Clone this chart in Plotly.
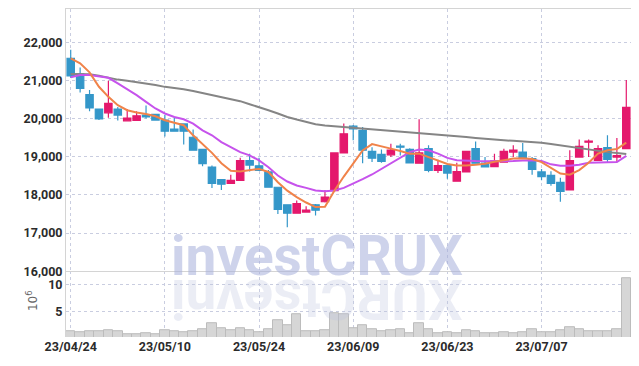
import plotly.graph_objects as go

dates = ["23/04/24","23/04/25","23/04/26","23/04/27","23/04/28",
         "23/05/02","23/05/03","23/05/04","23/05/08","23/05/09",
         "23/05/10","23/05/11","23/05/12","23/05/15","23/05/16",
         "23/05/17","23/05/18","23/05/19","23/05/22","23/05/23",
         "23/05/24","23/05/25","23/05/26","23/05/30","23/05/31",
         "23/06/01","23/06/02","23/06/05","23/06/07","23/06/08",
         "23/06/09","23/06/12","23/06/13","23/06/14","23/06/15",
         "23/06/16","23/06/19","23/06/20","23/06/21","23/06/22",
         "23/06/23","23/06/26","23/06/27","23/06/28","23/06/29",
         "23/06/30","23/07/03","23/07/04","23/07/05","23/07/06",
         "23/07/07","23/07/10","23/07/11","23/07/12","23/07/13",
         "23/07/14","23/07/17","23/07/18","23/07/19","23/07/20"]

open_ = [21580,21170,20630,20250,20150,20250,19940,19950,20090,20110,
         19960,19720,19860,19510,19190,18730,18400,18300,18380,18900,
         18760,18600,18200,17740,17520,17550,17740,17820,18110,19100,
         19800,19690,19140,19060,19050,19280,19190,18830,19210,18640,
         18770,18360,18600,19210,18830,18740,18860,19120,19120,18950,
         18600,18510,18330,18130,18990,19380,18900,19240,18990,19210]
high = [21800,21340,20750,20250,20990,20300,20250,20190,20340,20110,
        20090,20020,19860,19710,19190,18770,18400,18530,18970,19080,
        18970,18650,18200,17740,17850,17700,17760,18130,19110,19870,
        19830,19780,19250,19190,19340,19340,19220,19980,19300,18920,
        18780,18840,19150,19400,18990,19080,19210,19300,19360,18990,
        18680,18620,18450,19170,19450,19450,19300,19560,19490,21010]
low = [21070,20680,20190,19960,20020,19950,19940,19950,20000,19940,
       19530,19660,19320,19170,18750,18180,18130,18300,18370,18610,
       18640,18200,17500,17150,17510,17540,17460,17800,18100,19100,
       19430,18830,18860,18840,18990,19030,18820,18830,18590,18570,
       18420,18350,18590,18820,18720,18730,18850,18990,18970,18530,
       18380,18240,17820,18120,18980,18990,18900,18860,18860,19200]
close = [21120,20790,20280,19990,20400,20090,20010,20070,20040,19960,
         19670,19670,19670,19170,18820,18300,18280,18380,18900,18780,
         18640,18200,17620,17520,17770,17600,17600,17940,19100,19600,
         19730,19170,18960,18880,19170,19250,18840,19100,18640,18770,
         18570,18610,19140,18830,18730,18890,19140,19170,18970,18670,
         18480,18300,18090,18900,19270,19410,19210,18930,19030,20290]

volume_m = [1.4,1.2,1.4,1.4,1.7,1.5,1.0,1.0,1.15,1.0,
            1.57,1.4,1.2,1.4,1.75,3.0,2.06,1.57,2.06,1.57,
            1.3,1.75,3.4,2.5,4.5,1.4,1.4,1.57,4.7,4.5,
            2.06,2.6,1.75,1.4,1.57,1.75,1.02,2.85,1.75,1.08,
            1.2,1.02,1.57,1.45,1.02,1.02,1.2,1.08,1.2,1.75,
            1.2,1.2,1.57,2.25,1.9,1.4,1.4,1.4,1.75,11.2]

ma_short = [21579,21447,21210,20832,20568,20350,20218,20158,20121,20061,
            19955,19895,19824,19560,19330,19100,18830,18630,18613,18640,
            18680,18600,18330,18110,17940,17800,17680,17690,18110,18480,
            18816,19166,19330,19280,19211,19149,19079,19080,18990,18900,
            18810,18770,18770,18790,18816,18870,18920,18950,18960,18940,
            18860,18700,18560,18530,18650,18840,19080,19170,19200,19370]
ma_mid = [21080,21140,21140,21113,21068,20921,20771,20613,20437,20263,
          20132,20042,19982,19868,19692,19561,19384,19253,19121,19034,
          18903,18726,18508,18350,18245,18184,18113,18095,18113,18184,
          18290,18411,18534,18684,18832,18989,19121,19190,19170,19080,
          18970,18910,18890,18885,18880,18880,18880,18885,18900,18910,
          18890,18800,18760,18765,18790,18840,18845,18845,18860,19020]
ma_long = [21166,21166,21160,21120,21060,21020,20990,20955,20920,20880,
           20830,20800,20770,20720,20670,20610,20560,20508,20455,20376,
           20305,20218,20132,20042,19974,19903,19850,19816,19797,19779,
           19753,19737,19718,19700,19684,19666,19647,19630,19610,19590,
           19565,19540,19515,19490,19465,19445,19430,19415,19400,19385,
           19365,19330,19295,19255,19215,19175,19150,19120,19095,19070]

price_ticks = [16000, 17000, 18000, 19000, 20000, 21000, 22000]
vol_ticks = [5, 10]
tick_every = 10

idx = list(range(len(dates)))
tickvals = idx[::tick_every]
ticktext = dates[::tick_every]

RED = "#e4186c"
BLUE = "#3497c9"
FONT = "Roboto, Arial, sans-serif"
TICKFONT = dict(family=FONT, size=12.5, color="#2b2b2b", weight="bold")

fig = go.Figure()

fig.add_trace(go.Bar(
    x=idx, y=volume_m, xaxis="x", yaxis="y2",
    marker=dict(color="#d6d6d6", line=dict(color="#bcbcbc", width=1)),
    width=1.0, showlegend=False, hoverinfo="skip"))

fig.add_trace(go.Candlestick(
    x=idx, open=open_, high=high, low=low, close=close,
    xaxis="x2", yaxis="y",
    increasing=dict(line=dict(color=RED, width=1.2), fillcolor=RED),
    decreasing=dict(line=dict(color=BLUE, width=1.2), fillcolor=BLUE),
    whiskerwidth=0, showlegend=False))

for vals, col in ((ma_long, "#858585"), (ma_mid, "#c653ec"), (ma_short, "#f0834a")):
    fig.add_trace(go.Scatter(x=idx, y=vals, mode="lines", xaxis="x2", yaxis="y",
                             line=dict(color=col, width=2), showlegend=False,
                             hoverinfo="skip"))

vol_frac = 0.2006
grid = dict(showgrid=True, gridcolor="#c9cde0", griddash="dot", gridwidth=1)

# the page body adds an 8px offset, so the figure is sized to fit the window
fig.update_layout(
    width=631, height=358,
    margin=dict(l=58, r=8, t=1, b=29, autoexpand=False),
    paper_bgcolor="white", plot_bgcolor="white",
    bargap=0, boxgap=0.1, boxgroupgap=0.13,
    xaxis=dict(domain=[0, 1], anchor="y2", range=[-0.5, 59.5], automargin=False,
               tickvals=tickvals, ticktext=ticktext, ticks="",
               tickfont=TICKFONT,
               showline=False, zeroline=False, rangeslider=dict(visible=False), **grid),
    xaxis2=dict(domain=[0, 1], anchor="y", matches="x", range=[-0.5, 59.5], automargin=False,
                tickvals=tickvals, showticklabels=False, ticks="",
                showline=True, linecolor="#d4d4d4", linewidth=1, mirror=True,
                zeroline=False, rangeslider=dict(visible=False), **grid),
    yaxis=dict(domain=[vol_frac, 1], anchor="x2", range=[16000, 22870], automargin=False,
               tickvals=price_ticks, tickformat=",", ticks="",
               tickfont=TICKFONT,
               showline=True, linecolor="#d4d4d4", linewidth=1, mirror=True,
               zeroline=False, **grid),
    yaxis2=dict(domain=[0, vol_frac], anchor="x", range=[0.4, 12.4], automargin=False,
                tickvals=vol_ticks, ticks="",
                tickfont=TICKFONT,
                showline=True, linecolor="#d4d4d4", linewidth=1, mirror=True,
                zeroline=False, **grid),
)

# volume unit label
fig.add_annotation(text="10<sup>6</sup>", xref="paper", yref="paper",
                   x=-0.060, y=0.11, xanchor="center", yanchor="middle",
                   textangle=-90, showarrow=False,
                   font=dict(family="DejaVu Sans, sans-serif", size=12, color="#666"))

# watermark with reflection
fig.add_annotation(text="investCRUX", xref="paper", yref="paper",
                   x=0.444, y=0.248, xanchor="center", yanchor="middle",
                   showarrow=False,
                   font=dict(family=FONT, size=55, color="rgba(165,175,218,0.55)", weight="bold"))
fig.add_annotation(text="XURCtsevni", xref="paper", yref="paper",
                   x=0.444, y=0.118, xanchor="center", yanchor="middle",
                   textangle=180, showarrow=False,
                   font=dict(family=FONT, size=55, color="rgba(190,195,222,0.3)", weight="bold"))

fig.write_html("out.html")
